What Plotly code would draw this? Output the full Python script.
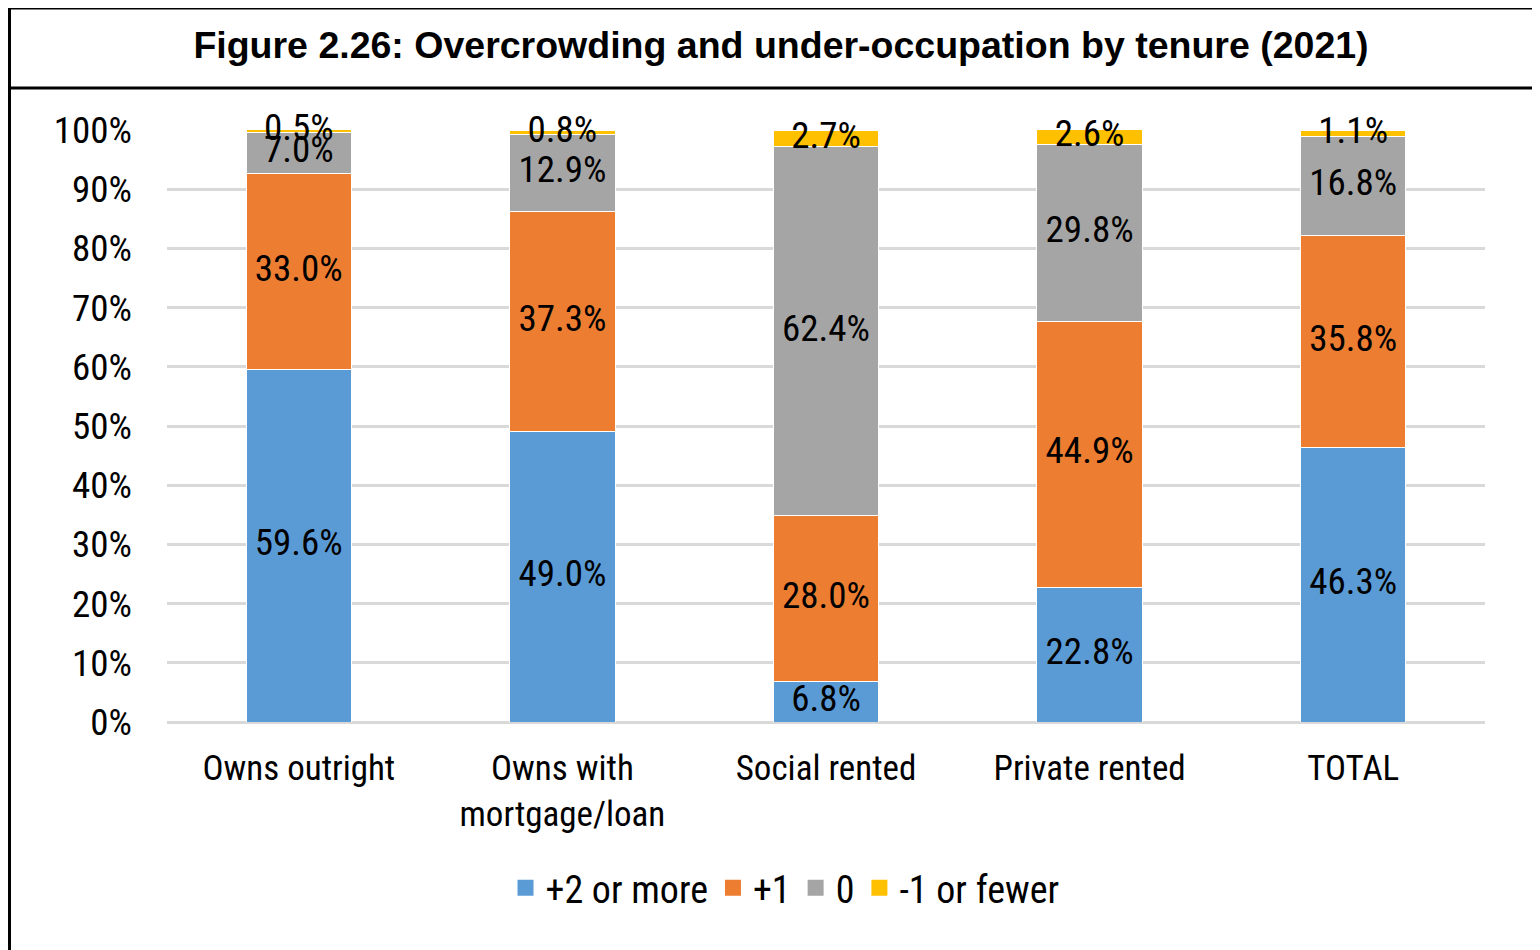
import plotly.graph_objects as go

# tenure categories and occupancy-rating shares (%)
categories = ["Owns outright", "Owns with<br>mortgage/loan", "Social rented", "Private rented", "TOTAL"]
plus2 = [59.6, 49.0, 6.8, 22.8, 46.3]
plus1 = [33.0, 37.3, 28.0, 44.9, 35.8]
zero = [7.0, 12.9, 62.4, 29.8, 16.8]
minus1 = [0.5, 0.8, 2.7, 2.6, 1.1]

series = [
    ("+2 or more", plus2, "#5B9BD5"),
    ("+1", plus1, "#ED7D31"),
    ("0", zero, "#A5A5A5"),
    ("-1 or fewer", minus1, "#FFC000"),
]

FONT = "Liberation Sans Narrow, Arial Narrow, Roboto Condensed, Liberation Sans, Arial"
W, H = 1540, 950
OFF = 8  # page body margin shifts the figure by 8px
L, R, T, B = 167 - OFF, 1485 - OFF, 130 - OFF, 722 - OFF

fig = go.Figure()

base = [0.0] * len(categories)
label_x, label_y, label_t = [], [], []
for name, vals, col in series:
    fig.add_trace(go.Bar(
        x=categories, y=vals, name=name, showlegend=False,
        marker=dict(color=col, line=dict(color="white", width=1)),
        hoverinfo="skip",
    ))
    for i, v in enumerate(vals):
        label_x.append(categories[i])
        label_y.append(base[i] + v / 2)
        label_t.append(f"{v:.1f}%")
        base[i] += v

# legend entries with larger square swatches
for name, vals, col in series:
    fig.add_trace(go.Scatter(
        x=[None], y=[None], mode="markers", name=name,
        marker=dict(symbol="square", size=17, color=col),
    ))

# segment labels
fig.add_trace(go.Scatter(
    x=label_x, y=label_y, text=label_t, mode="text",
    textfont=dict(family=FONT, size=37, color="black"),
    showlegend=False, hoverinfo="skip", cliponaxis=False,
))


def px_x(p):
    return (p - OFF - L) / (R - L)


def px_y(p):
    return (B - (p - OFF)) / (B - T)


line = dict(color="black", width=3)
shapes = [
    dict(type="line", xref="paper", yref="paper", x0=px_x(8), x1=px_x(1560), y0=px_y(8), y1=px_y(8), line=line),
    dict(type="line", xref="paper", yref="paper", x0=px_x(8), x1=px_x(1560), y0=px_y(88), y1=px_y(88), line=line),
    dict(type="line", xref="paper", yref="paper", x0=px_x(9.5), x1=px_x(9.5), y0=px_y(8), y1=px_y(970), line=line),
]

fig.update_layout(
    width=W, height=H,
    barmode="stack", bargap=0.6,
    plot_bgcolor="white", paper_bgcolor="white",
    margin=dict(l=L, r=W - R, t=T, b=H - B, pad=0),
    font=dict(family=FONT, size=36, color="black"),
    title=dict(
        text="<b>Figure 2.26: Overcrowding and under-occupation by tenure (2021)</b>",
        x=(781 - OFF) / W, y=1 - (45 - OFF) / H, xref="container", yref="container",
        xanchor="center", yanchor="middle",
        font=dict(family="Liberation Sans, Arial", size=37.5, color="black"),
    ),
    xaxis=dict(showgrid=False, showline=False, ticks="", tickfont=dict(size=35),
               ticklabelstandoff=22),
    yaxis=dict(
        range=[0, 100], tickvals=list(range(0, 101, 10)),
        ticktext=[f"{v}%" for v in range(0, 101, 10)],
        showgrid=True, gridcolor="#D9D9D9", gridwidth=3,
        zeroline=True, zerolinecolor="#D9D9D9", zerolinewidth=3,
        ticks="", ticklabelstandoff=34, tickfont=dict(size=37),
    ),
    legend=dict(
        orientation="h", x=(785 - OFF) / W, xref="container", xanchor="center",
        y=1 - (888 - OFF) / H, yref="container", yanchor="middle",
        font=dict(size=38), traceorder="normal", itemwidth=30,
    ),
    shapes=shapes,
    showlegend=True,
)

fig.write_html("out.html")
